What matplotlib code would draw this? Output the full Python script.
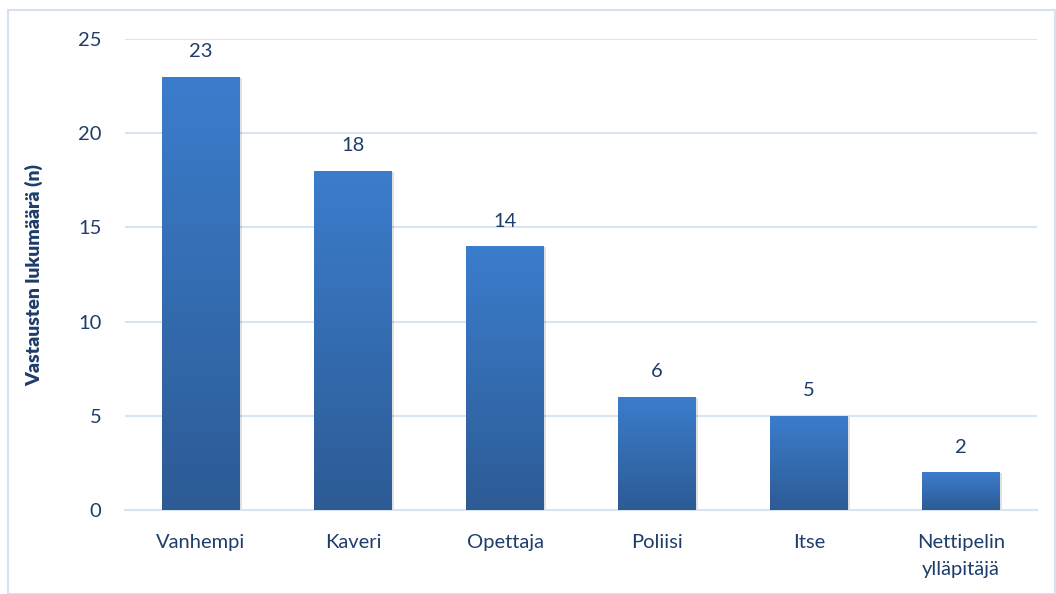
import matplotlib
matplotlib.use("Agg")
import matplotlib.pyplot as plt
import numpy as np
from matplotlib.colors import LinearSegmentedColormap
from matplotlib.patches import Rectangle

categories = ["Vanhempi", "Kaveri", "Opettaja", "Poliisi", "Itse", "Nettipelin\nylläpitäjä"]
values = [23, 18, 14, 6, 5, 2]
yticks = [0, 5, 10, 15, 20, 25]
ylabel = "Vastausten lukumäärä (n)"

plt.rcParams['font.family'] = ['Lato', 'DejaVu Sans']
text_color = "#1f3d6b"
grid_color = "#d9e4f2"

fig = plt.figure(figsize=(10.56, 5.94), dpi=100)
# outer chart border
fig.patches.append(Rectangle((8/1056, 0), 1 - 8/1056 - 0.001, 1 - 10/594, transform=fig.transFigure,
                             fill=False, edgecolor="#d6e2f2", linewidth=1.5))
ax = fig.add_axes([125/1056, 1 - 510/594, 912/1056, (510 - 39)/594])

x = np.arange(len(categories))
width = 0.51
cmap = LinearSegmentedColormap.from_list("g", ["#2d5b95", "#3b7dcc"])
grad = np.linspace(0, 1, 256).reshape(-1, 1)

ax.set_ylim(0, 25)
ax.set_xlim(-0.5, len(categories) - 0.5)

bars = ax.bar(x, values, width=width, color="none", zorder=3)
for b, v in zip(bars, values):
    bx, bw, bh = b.get_x(), b.get_width(), b.get_height()
    # subtle shadow
    sh = Rectangle((bx + 0.012, -0.05), bw, bh, facecolor="#000000", alpha=0.12,
                   edgecolor="none", zorder=2)
    ax.add_patch(sh)
    im = ax.imshow(grad, extent=[bx, bx + bw, 0, bh], origin="lower", cmap=cmap,
                   aspect="auto", zorder=3)
    im.set_clip_path(b)
    ax.annotate(str(v), (bx + bw / 2, bh), xytext=(0, 12), textcoords="offset points",
                ha="center", va="bottom", fontsize=14.5, color=text_color)

ax.set_xlim(-0.5, len(categories) - 0.5)
ax.set_ylim(0, 25)
ax.set_yticks(yticks)
ax.set_xticks(x)
ax.set_xticklabels(categories, fontsize=14.5, color=text_color, linespacing=1.75)
ax.tick_params(axis="y", labelsize=14.5, labelcolor=text_color, length=0, pad=17)
ax.tick_params(axis="x", length=0, pad=17)
ax.yaxis.grid(True, color=grid_color, linewidth=1.5, zorder=0)
ax.set_axisbelow(True)
for s in ["top", "right", "left"]:
    ax.spines[s].set_visible(False)
ax.spines["bottom"].set_color(grid_color)
ax.spines["bottom"].set_linewidth(1.5)
ax.set_ylabel(ylabel, fontsize=14, fontweight="heavy", color=text_color)
ax.yaxis.set_label_coords(-82/912, 0.5)

fig.savefig("out.png", dpi=100)
